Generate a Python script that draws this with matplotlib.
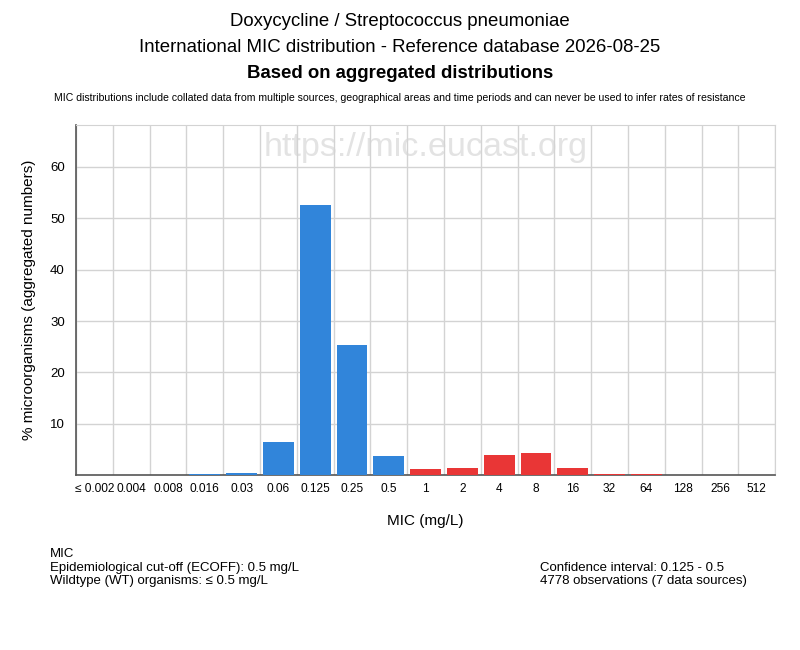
import numpy as np
import matplotlib.pyplot as plt

plt.rcParams['font.family'] = ['Liberation Sans', 'DejaVu Sans']

mic_labels = ["≤ 0.002", "0.004", "0.008", "0.016", "0.03", "0.06", "0.125", "0.25", "0.5",
              "1", "2", "4", "8", "16", "32", "64", "128", "256", "512"]
percent = [0.0, 0.0, 0.0, 0.2, 0.4, 6.4, 52.5, 25.3, 3.8,
           1.2, 1.4, 4.0, 4.3, 1.4, 0.2, 0.2, 0.0, 0.0, 0.0]
wildtype = [True] * 9 + [False] * 10

BLUE = "#3185da"
RED = "#e93636"


def main() -> None:
    fig = plt.figure(figsize=(8, 6.5), dpi=100)
    ax = fig.add_axes([0.095, 0.269, 0.874, 0.539])

    x = np.arange(len(mic_labels))
    colors = [BLUE if wt else RED for wt in wildtype]
    ax.bar(x, percent, width=0.84, color=colors, zorder=3)

    ax.set_xlim(-0.5, len(mic_labels) - 0.5)
    ax.set_ylim(0, 68.2)
    ax.set_yticks([10, 20, 30, 40, 50, 60])
    ax.set_xticks(x)
    ax.set_xticklabels(mic_labels, fontsize=8.6)
    ax.tick_params(axis="y", labelsize=9.5, length=0, pad=8)
    ax.tick_params(axis="x", length=0, pad=6)

    # grid lines at category boundaries
    ax.set_xticks(np.arange(-0.5, len(mic_labels), 1.0), minor=True)
    ax.tick_params(axis="x", which="minor", length=0)
    ax.grid(True, which="minor", axis="x", color="#d3d3d3", lw=1, zorder=0)
    ax.grid(True, which="major", axis="y", color="#d3d3d3", lw=1, zorder=0)
    for side in ["top", "right"]:
        ax.spines[side].set_color("#d3d3d3")
    for side in ["left", "bottom"]:
        ax.spines[side].set_color("#555555")
        ax.spines[side].set_linewidth(1.2)

    ax.set_xlabel("MIC (mg/L)", fontsize=11, labelpad=13)
    ax.set_ylabel("% microorganisms (aggregated numbers)", fontsize=11, labelpad=10)

    ax.text(0.5, 0.935, "https://mic.eucast.org", transform=ax.transAxes,
            ha="center", va="center", fontsize=24.5, color="#e3e3e3", zorder=1)

    fig.text(0.5, 1 - 21 / 650, "Doxycycline / Streptococcus pneumoniae",
             ha="center", va="center", fontsize=13.4)
    fig.text(0.5, 1 - 48 / 650, "International MIC distribution - Reference database 2026-08-25",
             ha="center", va="center", fontsize=13.4)
    fig.text(0.5, 1 - 73 / 650, "Based on aggregated distributions",
             ha="center", va="center", fontsize=13.4, fontweight="bold")
    fig.text(0.5, 1 - 98 / 650,
             "MIC distributions include collated data from multiple sources, geographical areas "
             "and time periods and can never be used to infer rates of resistance",
             ha="center", va="center", fontsize=7.6)

    fig.text(50 / 800, 1 - 554 / 650, "MIC", ha="left", va="center", fontsize=9.5)
    fig.text(50 / 800, 1 - 568 / 650, "Epidemiological cut-off (ECOFF): 0.5 mg/L",
             ha="left", va="center", fontsize=9.5)
    fig.text(50 / 800, 1 - 581 / 650, "Wildtype (WT) organisms: ≤ 0.5 mg/L",
             ha="left", va="center", fontsize=9.5)
    fig.text(540 / 800, 1 - 568 / 650, "Confidence interval: 0.125 - 0.5",
             ha="left", va="center", fontsize=9.5)
    fig.text(540 / 800, 1 - 581 / 650, "4778 observations (7 data sources)",
             ha="left", va="center", fontsize=9.5)

    fig.savefig("out.png", dpi=100)


if __name__ == "__main__":
    main()
